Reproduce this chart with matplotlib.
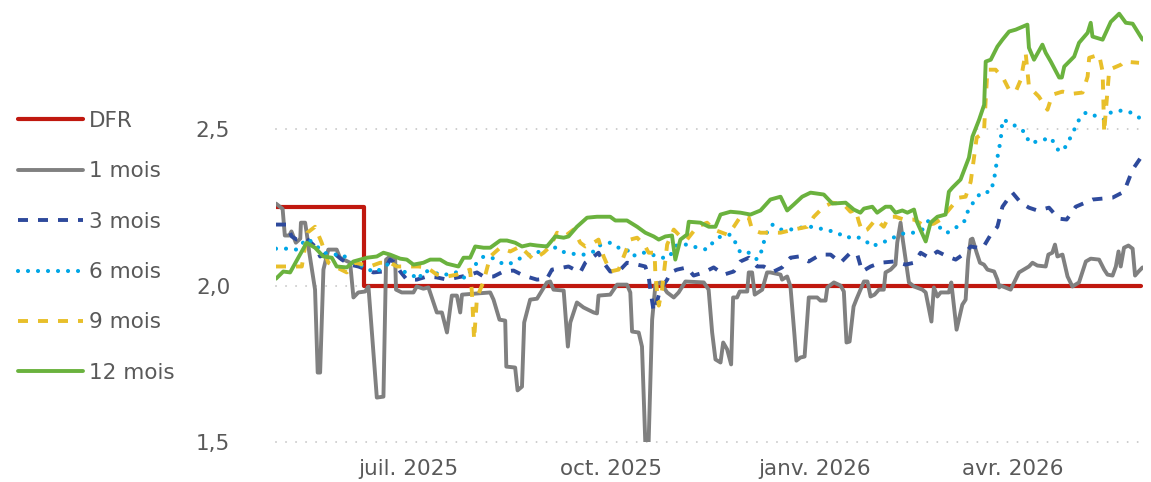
import matplotlib
matplotlib.use("Agg")
import matplotlib.pyplot as plt
import pandas as pd

plt.rcParams['font.family'] = ['DejaVu Sans']

# ---------------- data ----------------
start_date = pd.Timestamp("2025-05-02")   # first observation
end_date = pd.Timestamp("2026-05-30")     # right edge of axis

dfr_dates = ["2025-05-02", "2025-06-11", "2026-05-29"]
dfr_vals = [2.25, 2.00, 2.00]

# days after start_date
m1_days = [0, 3, 4, 6, 7, 9, 11, 11.3, 13.2, 13.9, 15.1, 17.7, 18.9, 20, 21.5, 23.7, 27.5, 29, 33.6,
           35.1, 37.3, 40.4, 41.9, 45.7, 48.7, 49.9, 51.7, 54, 54.4, 57, 62.3, 63.8, 66.8, 69.1, 72.9,
           75.2, 77.5, 79.7, 82, 83.5, 84.3, 97.1, 98.6, 101.3, 103.9, 104.4, 108.4, 109.5, 111.5,
           112.5, 115.2, 118.3, 122.8, 124.3, 125.8, 130.4, 132.3, 133.4, 136.4, 139.4, 144, 145.5,
           146.2, 151.5, 154.6, 159.1, 160.6, 161.4, 164.4, 165.9, 167.4, 168.9, 170.5, 172, 174.2,
           177.3, 180.3, 182.5, 185.6, 193.9, 196.1, 197.7, 199.2, 201.5, 202.7, 204.5, 206.3, 207.2,
           209, 210.2, 213.6, 214.3, 215.8, 217, 220.4, 222.6, 224.1, 228.7, 229.4, 231.7, 233.2,
           235, 235.9, 237.7, 239.6, 241.5, 245.3, 246.8, 249.1, 249.9, 252.9, 255.9, 257.4, 258.6,
           260, 261.8, 263.2, 266.5, 268.1, 269.5, 271.3, 273.3, 275.5, 276.3, 278.6, 280.8, 281.6,
           283.1, 283.9, 285.4, 286.9, 289.2, 293, 294.5, 297.1, 298.2, 299.8, 301.3, 305, 306.1,
           308.5, 311.1, 312.6, 313.7, 314.9, 315.7, 317.6, 319.1, 320.9, 322.5, 325.5, 327, 327.8,
           328.5, 333, 336.8, 341.3, 342.9, 345.1, 348.9, 350.1, 351.9, 353.1, 354.2, 356.5, 358.8,
           361, 364, 367.1, 369.3, 373.1, 375.4, 376.9, 379.2, 380.7, 381.9, 382.9, 384.4, 386.4,
           388.3, 389.4, 391, 392.8]
m1_vals = [2.262, 2.245, 2.160, 2.160, 2.173, 2.137, 2.150, 2.201, 2.201, 2.169, 2.105, 1.987, 1.722,
           1.722, 2.051, 2.115, 2.115, 2.089, 2.073, 1.962, 1.978, 1.981, 1.997, 1.642, 1.645, 2.083,
           2.093, 2.089, 1.987, 1.978, 1.978, 1.997, 1.990, 1.994, 1.914, 1.914, 1.850, 1.968, 1.968,
           1.914, 1.971, 1.978, 1.955, 1.891, 1.888, 1.741, 1.738, 1.665, 1.677, 1.882, 1.955, 1.958,
           2.010, 2.013, 1.987, 1.984, 1.805, 1.882, 1.946, 1.930, 1.914, 1.911, 1.968, 1.971, 2.003,
           2.003, 1.978, 1.853, 1.850, 1.805, 1.498, 1.498, 1.891, 2.003, 2.010, 1.978, 1.962, 1.978,
           2.013, 2.010, 1.987, 1.850, 1.764, 1.754, 1.818, 1.796, 1.748, 1.962, 1.962, 1.981, 1.981,
           2.042, 2.042, 1.971, 1.987, 2.042, 2.042, 2.035, 2.019, 2.029, 1.997, 1.843, 1.760, 1.770,
           1.773, 1.962, 1.962, 1.952, 1.952, 1.994, 2.010, 2.000, 1.981, 1.818, 1.821, 1.933, 1.958,
           2.013, 2.013, 1.965, 1.971, 1.987, 1.987, 2.042, 2.051, 2.067, 2.137, 2.201, 2.157, 2.083,
           2.010, 1.997, 1.987, 1.978, 1.885, 1.994, 1.965, 1.978, 1.978, 2.010, 1.859, 1.939, 1.955,
           2.083, 2.147, 2.150, 2.105, 2.073, 2.067, 2.051, 2.045, 2.019, 1.994, 2.000, 1.987, 2.042,
           2.061, 2.073, 2.064, 2.061, 2.099, 2.105, 2.131, 2.093, 2.099, 2.029, 1.997, 2.010, 2.077,
           2.086, 2.083, 2.051, 2.035, 2.032, 2.061, 2.109, 2.061, 2.121, 2.128, 2.118, 2.032, 2.045,
           2.058]

m3_days = [0, 4.9, 7.1, 9.4, 13.9, 17.7, 20, 23.7, 26, 29.8, 33.6, 37.3, 41.2, 44.1, 48.7, 51.7, 54,
           56.3, 59.3, 63.8, 68.4, 72.9, 77.5, 84.3, 88, 91.1, 94.1, 98.6, 103.1, 107.7, 112.2, 118.3,
           122.8, 125.1, 130.4, 132.6, 137.9, 140.2, 144, 146.2, 148.5, 151.5, 155.3, 159.1, 162.1,
           167.4, 168.9, 169.7, 171.2, 172.7, 174.2, 177.3, 178.8, 181.8, 186.3, 189.3, 193.9, 198.4,
           203, 207.5, 210.5, 214.3, 218.1, 221.1, 223.4, 225.6, 229.4, 233.2, 237, 241.5, 246.8,
           251.4, 255.9, 260.4, 263.5, 265.7, 269.5, 274, 280.1, 285.4, 289.2, 292.2, 296, 299.8,
           304.3, 308.1, 312.6, 314.9, 320.2, 324, 327, 329.3, 333.8, 337.6, 341.3, 345.1, 350.4,
           354.8, 358.4, 362.5, 370.1, 379.2, 384.4, 388.3, 392]
m3_vals = [2.195, 2.195, 2.157, 2.147, 2.150, 2.125, 2.093, 2.105, 2.105, 2.083, 2.067, 2.061, 2.051,
           2.042, 2.045, 2.083, 2.073, 2.045, 2.019, 2.019, 2.029, 2.026, 2.019, 2.029, 2.035, 2.042,
           2.029, 2.029, 2.045, 2.048, 2.032, 2.019, 2.022, 2.051, 2.058, 2.061, 2.042, 2.073, 2.093,
           2.105, 2.073, 2.045, 2.045, 2.073, 2.070, 2.061, 2.029, 1.987, 1.917, 1.949, 1.987, 2.019,
           2.042, 2.051, 2.058, 2.032, 2.042, 2.058, 2.035, 2.045, 2.077, 2.089, 2.061, 2.061, 2.051,
           2.045, 2.058, 2.089, 2.093, 2.077, 2.099, 2.099, 2.073, 2.105, 2.099, 2.045, 2.061, 2.073,
           2.077, 2.067, 2.073, 2.105, 2.089, 2.109, 2.093, 2.083, 2.105, 2.125, 2.118, 2.163, 2.188,
           2.252, 2.297, 2.265, 2.249, 2.240, 2.249, 2.214, 2.211, 2.252, 2.275, 2.281, 2.300, 2.371,
           2.409]

m6_days = [0, 4.9, 9.4, 13.9, 16.9, 21.5, 26, 30.5, 32.8, 36.6, 40.4, 44.1, 47.2, 50.2, 54, 57.8,
           61.6, 64.6, 66.8, 71.4, 75.9, 79.7, 82.7, 85.8, 89.5, 94.1, 97.9, 101.6, 105.4, 109.2, 113,
           116.7, 120.6, 122.8, 125.8, 128.9, 132.5, 136.4, 140.2, 144, 145.5, 147.8, 151.5, 155.3,
           159.1, 161.4, 165.2, 168.2, 174.2, 178, 181.8, 187.1, 190.9, 195.4, 198.4, 201.5, 206,
           208.3, 210.5, 214.3, 218.1, 220.4, 221.9, 224.9, 228.7, 233.2, 237.7, 242.3, 246.8, 250.6,
           254.4, 258.2, 262.7, 266.5, 270.3, 274, 277.8, 280.8, 285.4, 289.2, 293, 296.7, 299.8,
           301.3, 304.3, 308.1, 311.9, 314.2, 317.2, 319.4, 324, 325.5, 327, 328.5, 329.3, 333, 336.1,
           339.8, 341.3, 345.1, 351.2, 355, 358, 360.3, 364, 367.1, 372.4, 375.4, 378.4, 382.9,
           387.5, 391.2]
m6_vals = [2.118, 2.118, 2.115, 2.150, 2.137, 2.105, 2.099, 2.099, 2.077, 2.067, 2.061, 2.042, 2.051,
           2.067, 2.067, 2.045, 2.035, 2.019, 2.048, 2.042, 2.032, 2.042, 2.042, 2.022, 2.061, 2.093,
           2.089, 2.073, 2.067, 2.083, 2.093, 2.105, 2.109, 2.128, 2.125, 2.109, 2.105, 2.099, 2.099,
           2.109, 2.125, 2.131, 2.137, 2.121, 2.115, 2.093, 2.105, 2.105, 2.089, 2.089, 2.131, 2.131,
           2.121, 2.115, 2.141, 2.157, 2.163, 2.137, 2.105, 2.105, 2.083, 2.115, 2.163, 2.195, 2.179,
           2.179, 2.185, 2.188, 2.182, 2.176, 2.169, 2.153, 2.157, 2.147, 2.125, 2.137, 2.144, 2.157,
           2.169, 2.169, 2.179, 2.217, 2.211, 2.179, 2.169, 2.185, 2.204, 2.249, 2.275, 2.297, 2.300,
           2.339, 2.409, 2.466, 2.530, 2.521, 2.505, 2.489, 2.457, 2.460, 2.473, 2.428, 2.444, 2.476,
           2.530, 2.553, 2.540, 2.530, 2.553, 2.559, 2.553, 2.537]

m9_days = [0, 6.4, 11.7, 14.2, 17.7, 20.7, 23.7, 27.5, 32.1, 35.8, 39.6, 42.6, 47.2, 51.7, 54.8,
           60.8, 64.6, 68.4, 72.9, 77.5, 82, 88, 88.8, 89.8, 91.1, 94.1, 97.1, 101.6, 106.2, 110.7,
           116.7, 121.3, 124.3, 127.4, 130.4, 131.9, 134.9, 137.9, 140.2, 144, 146.2, 148.5, 151.5,
           155.3, 157.6, 160.6, 163.7, 167.4, 168.9, 171.6, 172, 173.5, 175, 177.3, 180.3, 183.3,
           186.3, 190.9, 195.4, 198.4, 204.5, 207.5, 210.5, 214.3, 215.8, 219.6, 224.1, 228.7, 234.7,
           240.8, 243.8, 248.3, 252.2, 257.4, 260.4, 262.7, 264.2, 265.7, 268, 271.8, 275.5, 277.8,
           280.8, 284.6, 289.2, 293.7, 298.2, 301.3, 305.8, 309.6, 312.6, 314.9, 316.4, 317.6, 320.9,
           321.7, 322.5, 326.2, 330, 332.3, 335.3, 337.6, 339.8, 341.3, 345.8, 349.7, 351.9, 356.5,
           361, 365.6, 367.9, 368.6, 373.1, 374.7, 375.4, 376.2, 377.7, 383, 384.4, 391.2]
m9_vals = [2.061, 2.061, 2.061, 2.169, 2.188, 2.137, 2.073, 2.058, 2.042, 2.073, 2.067, 2.061, 2.073,
           2.073, 2.061, 2.061, 2.061, 2.058, 2.035, 2.029, 2.035, 2.051, 1.978, 1.827, 1.962, 2.013,
           2.093, 2.121, 2.109, 2.125, 2.083, 2.105, 2.125, 2.169, 2.157, 2.163, 2.179, 2.137, 2.125,
           2.137, 2.147, 2.093, 2.045, 2.051, 2.093, 2.147, 2.153, 2.125, 2.105, 2.105, 2.029, 1.936,
           1.987, 2.131, 2.179, 2.157, 2.147, 2.188, 2.201, 2.179, 2.163, 2.188, 2.220, 2.217, 2.179,
           2.169, 2.169, 2.169, 2.179, 2.188, 2.220, 2.252, 2.265, 2.259, 2.236, 2.243, 2.204, 2.173,
           2.179, 2.211, 2.188, 2.220, 2.220, 2.211, 2.211, 2.192, 2.198, 2.211, 2.249, 2.281, 2.284,
           2.332, 2.409, 2.473, 2.489, 2.594, 2.690, 2.690, 2.658, 2.626, 2.620, 2.658, 2.744, 2.636,
           2.604, 2.562, 2.610, 2.620, 2.613, 2.617, 2.668, 2.728, 2.738, 2.684, 2.489, 2.562, 2.690,
           2.706, 2.716, 2.712]

m12_days = [0, 3.3, 6.4, 10.1, 13.9, 17.7, 21.5, 25.3, 27.5, 32.1, 35.1, 41.2, 45.7, 48.7, 51.7,
            56.3, 59.3, 62.3, 66.8, 69.9, 74.4, 77.5, 82.7, 85, 88, 90.3, 94.1, 97.1, 101.6, 104.7,
            108.4, 111.5, 115.2, 118.3, 122.8, 126.6, 130.4, 132.6, 136.4, 141, 145.5, 151.5, 153.8,
            159.1, 163.7, 167.4, 171.2, 173.5, 176.5, 179.5, 181, 183.3, 186.3, 187.1, 192.4, 196.2,
            199.2, 201.5, 206, 210.5, 215.1, 219.6, 224.1, 228.7, 231.7, 234.7, 238.5, 242.3, 248.3,
            252.2, 258.2, 261.9, 264.9, 266.5, 270.3, 272.5, 276.3, 278.6, 280.8, 283.9, 286.2, 289.2,
            290.7, 294.5, 296.7, 299.8, 303.5, 305, 306.6, 310.3, 314.1, 315.7, 318.7, 321, 321.7,
            324, 327, 329.3, 332.3, 335.3, 340.6, 341.3, 343.6, 347.4, 348.9, 351.2, 355, 356.2,
            357.3, 361.8, 364, 367.9, 369.3, 370.1, 374.7, 378.4, 382.2, 385.2, 388.3, 392.8]
m12_vals = [2.022, 2.045, 2.042, 2.089, 2.137, 2.121, 2.093, 2.089, 2.061, 2.058, 2.077, 2.089, 2.093,
            2.105, 2.099, 2.086, 2.083, 2.067, 2.073, 2.083, 2.083, 2.070, 2.061, 2.089, 2.089, 2.125,
            2.121, 2.121, 2.144, 2.144, 2.137, 2.125, 2.131, 2.128, 2.125, 2.157, 2.153, 2.157, 2.188,
            2.217, 2.220, 2.220, 2.208, 2.208, 2.188, 2.169, 2.157, 2.147, 2.157, 2.160, 2.083, 2.147,
            2.163, 2.204, 2.201, 2.188, 2.188, 2.227, 2.236, 2.233, 2.227, 2.240, 2.275, 2.284, 2.240,
            2.259, 2.284, 2.297, 2.291, 2.262, 2.265, 2.243, 2.233, 2.246, 2.252, 2.233, 2.252, 2.252,
            2.233, 2.240, 2.233, 2.243, 2.201, 2.141, 2.201, 2.220, 2.227, 2.300, 2.313, 2.339, 2.409,
            2.476, 2.530, 2.578, 2.716, 2.722, 2.764, 2.786, 2.812, 2.818, 2.834, 2.760, 2.722, 2.770,
            2.744, 2.716, 2.665, 2.665, 2.700, 2.732, 2.776, 2.808, 2.840, 2.796, 2.786, 2.843, 2.869,
            2.840, 2.837, 2.786]

y_ticks = [1.5, 2.0, 2.5]
y_tick_labels = ["1,5", "2,0", "2,5"]
x_ticks = ["2025-07-01", "2025-10-01", "2026-01-01", "2026-04-01"]
x_tick_labels = ["juil. 2025", "oct. 2025", "janv. 2026", "avr. 2026"]


def to_dates(days):
    return start_date + pd.to_timedelta(days, unit="D")


# ---------------- figure ----------------
W, H = 1151, 482
fig = plt.figure(figsize=(W / 100, H / 100), dpi=100)
ax = fig.add_axes([276 / W, 40 / H, (1143 - 276) / W, 438 / H])

txt = "#595959"
fs = 15.5
dash_pt = 7.2  # ~10 px

lw = 2.8
ax.plot(pd.to_datetime(dfr_dates), dfr_vals, drawstyle="steps-post", color="#C0180F",
        lw=3.0, solid_capstyle="round", label="DFR", zorder=3)
ax.plot(to_dates(m1_days), m1_vals, color="#808080", lw=lw, solid_joinstyle="round",
        solid_capstyle="round", label="1 mois", zorder=4)
ax.plot(to_dates(m3_days), m3_vals, color="#2E4A9C", lw=lw,
        linestyle=(0, (dash_pt / lw, dash_pt / lw)), label="3 mois", zorder=5)
lwd = 3.0
ax.plot(to_dates(m6_days), m6_vals, color="#00A6E6", lw=lwd,
        linestyle=(0, (0.001, dash_pt / lwd)), dash_capstyle="round", label="6 mois", zorder=6)
ax.plot(to_dates(m9_days), m9_vals, color="#E8BF2A", lw=lw,
        linestyle=(0, (dash_pt / lw, dash_pt / lw)), label="9 mois", zorder=7)
ax.plot(to_dates(m12_days), m12_vals, color="#6AB23E", lw=lw, solid_joinstyle="round",
        solid_capstyle="round", label="12 mois", zorder=8)

ax.set_xlim(start_date, end_date)
ax.set_ylim(1.5, 2.9)

ax.set_yticks(y_ticks)
ax.set_yticklabels(y_tick_labels)
ax.set_xticks(pd.to_datetime(x_ticks))
ax.set_xticklabels(x_tick_labels)

ax.tick_params(axis="both", length=0, labelsize=fs, colors=txt)
ax.tick_params(axis="y", pad=33)
ax.tick_params(axis="x", pad=12)

ax.grid(axis="y", color="#C8C8C8", linestyle=(0, (0.01, 7.2 / 1.4)), lw=1.4,
        dash_capstyle="round", clip_on=False)
ax.grid(axis="x", visible=False)
for s in ax.spines.values():
    s.set_visible(False)

leg = fig.legend(loc="upper left", bbox_to_anchor=(18 / W, 1 - 111 / H), frameon=False,
                 fontsize=fs, labelcolor=txt, handlelength=3.0, handletextpad=0.3,
                 labelspacing=1.41, borderpad=0, borderaxespad=0)

fig.savefig("out.png", dpi=100)
